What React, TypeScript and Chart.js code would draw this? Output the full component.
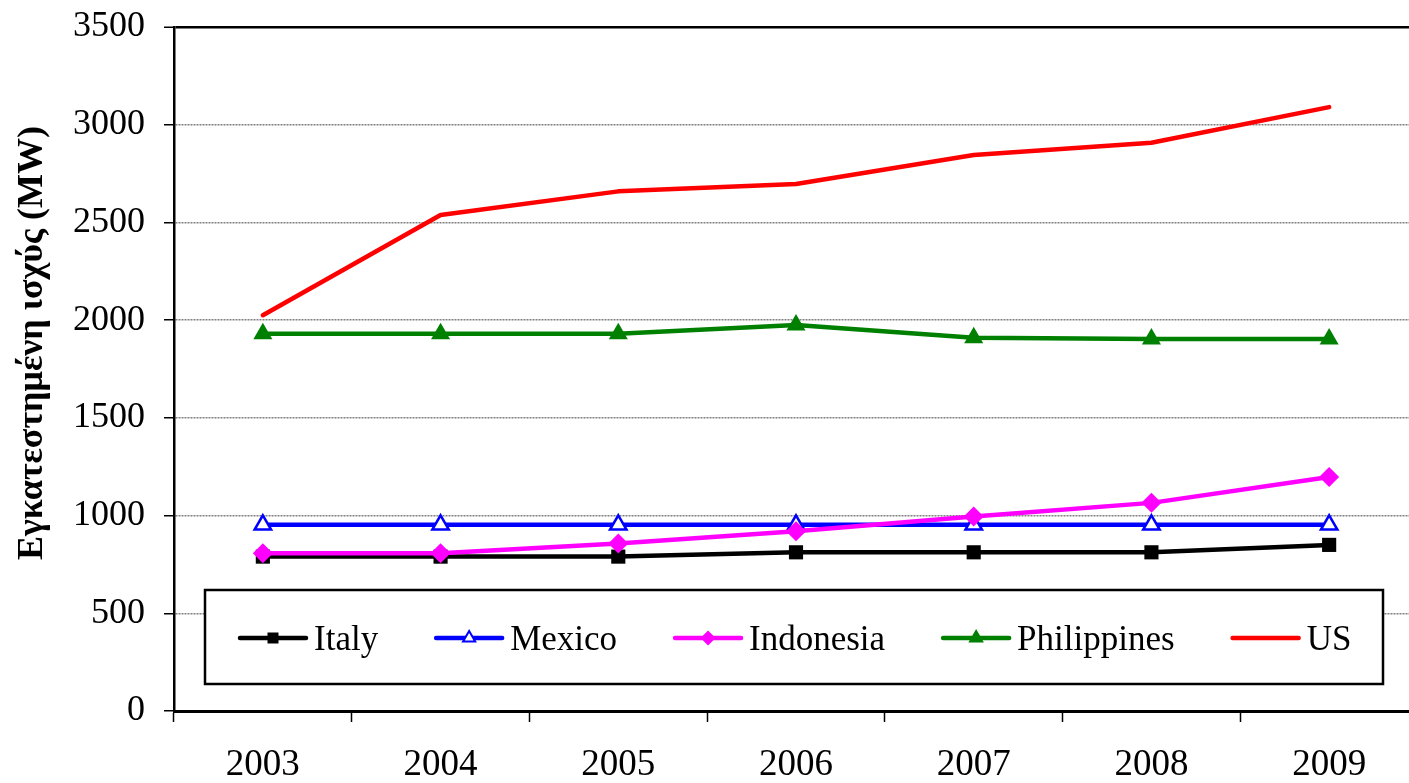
import React, { useEffect, useRef } from "react";
import { Chart, registerables } from "chart.js";

Chart.register(...registerables);

// ---- data ----
const years = ["2003", "2004", "2005", "2006", "2007", "2008", "2009"];
const italy = [790, 790, 790, 812, 812, 812, 850];
const mexico = [953, 953, 953, 953, 953, 953, 953];
const indonesia = [807, 807, 857, 920, 995, 1065, 1197];
const philippines = [1930, 1930, 1930, 1975, 1910, 1904, 1904];
const us = [2025, 2538, 2659, 2697, 2845, 2908, 3090];

const seriesNames = ["Italy", "Mexico", "Indonesia", "Philippines", "US"];
const yMin = 0;
const yMax = 3500;
const yStep = 500;
const yAxisTitle = "Εγκατεστημένη ισχύς (MW)";

const SERIF = '"Liberation Serif", "Times New Roman", serif';

function drawMarker(ctx: CanvasRenderingContext2D, style: string, cx: number, cy: number, fill: string, stroke: string, scale: number) {
  ctx.save();
  ctx.fillStyle = fill;
  ctx.strokeStyle = stroke;
  ctx.lineWidth = 2;
  ctx.beginPath();
  if (style === "rect") {
    const h = 5.5 * scale;
    ctx.rect(cx - h, cy - h, 2 * h, 2 * h);
    ctx.fill();
  } else if (style === "rectRot") {
    const h = 7.5 * scale;
    ctx.moveTo(cx - h, cy);
    ctx.lineTo(cx, cy - h);
    ctx.lineTo(cx + h, cy);
    ctx.lineTo(cx, cy + h);
    ctx.closePath();
    ctx.fill();
  } else if (style === "triangle") {
    const r = 7 * scale;
    ctx.moveTo(cx, cy - r);
    ctx.lineTo(cx + r * 0.866, cy + r * 0.5);
    ctx.lineTo(cx - r * 0.866, cy + r * 0.5);
    ctx.closePath();
    ctx.fill();
    ctx.stroke();
  }
  ctx.restore();
}

const boxLegend = {
  id: "boxLegend",
  afterDraw(chart: any) {
    const ctx: CanvasRenderingContext2D = chart.ctx;
    ctx.save();
    const bx = 205, by = 590, bw = 1178, bh = 94;
    ctx.fillStyle = "#ffffff";
    ctx.fillRect(bx, by, bw, bh);
    ctx.lineWidth = 2.5;
    ctx.strokeStyle = "#000000";
    ctx.strokeRect(bx, by, bw, bh);

    ctx.font = "35px " + SERIF;
    ctx.textBaseline = "alphabetic";
    ctx.textAlign = "left";
    let x = 240;
    const ly = 638;
    const lineLen = 66;
    chart.data.datasets.forEach((ds: any) => {
      ctx.strokeStyle = ds.borderColor;
      ctx.lineWidth = ds.borderWidth;
      ctx.lineCap = "round";
      ctx.beginPath();
      ctx.moveTo(x, ly);
      ctx.lineTo(x + lineLen, ly);
      ctx.stroke();
      if (ds.pointRadius > 0) {
        drawMarker(ctx, ds.pointStyle, x + lineLen / 2, ly, ds.pointBackgroundColor, ds.pointBorderColor, 1);
      }
      ctx.fillStyle = "#000000";
      const tx = x + lineLen + 8;
      ctx.fillText(ds.label, tx, 650);
      x = tx + ctx.measureText(ds.label).width + 58;
    });
    ctx.restore();
  },
};

const yTitlePlugin = {
  id: "yTitle",
  afterDraw(chart: any) {
    const ctx: CanvasRenderingContext2D = chart.ctx;
    ctx.save();
    ctx.translate(33, 343);
    ctx.rotate(-Math.PI / 2);
    ctx.font = "bold 36px " + SERIF;
    ctx.fillStyle = "#000000";
    ctx.textAlign = "center";
    ctx.textBaseline = "middle";
    ctx.fillText(yAxisTitle, 0, 0);
    ctx.restore();
  },
};

export default function App() {
  const ref = useRef<HTMLCanvasElement | null>(null);

  useEffect(() => {
    if (!ref.current) return;
    const mk = (label: string, data: number[], color: string, style: string | false, radius: number, bg: string, width: number, order: number) => ({
      label,
      data,
      borderColor: color,
      backgroundColor: color,
      borderWidth: width,
      pointStyle: style,
      pointRadius: radius,
      pointHoverRadius: radius,
      pointBackgroundColor: bg,
      pointBorderColor: color,
      pointBorderWidth: style === "triangle" && bg === "#ffffff" ? 2.5 : 0,
      tension: 0,
      fill: false,
      order,
    });
    const chart = new Chart(ref.current, {
      type: "line",
      data: {
        labels: years,
        datasets: [
          mk(seriesNames[0], italy, "#000000", "rect", 10, "#000000", 4.5, 5),
          mk(seriesNames[1], mexico, "#0000ff", "triangle", 9.5, "#ffffff", 4.5, 4),
          mk(seriesNames[2], indonesia, "#ff00ff", "rectRot", 10, "#ff00ff", 4.5, 3),
          mk(seriesNames[3], philippines, "#008000", "triangle", 11, "#008000", 4.5, 2),
          mk(seriesNames[4], us, "#ff0000", false, 0, "#ff0000", 4.5, 1),
        ] as any,
      },
      options: {
        responsive: false,
        animation: false,
        devicePixelRatio: 1,
        layout: { padding: { top: 27, right: 9, left: 0, bottom: 0 } },
        plugins: {
          legend: { display: false },
          title: { display: false },
          tooltip: { enabled: false },
        },
        elements: { line: { borderCapStyle: "round", borderJoinStyle: "round" } },
        scales: {
          x: {
            type: "category",
            offset: true,
            afterFit: (s: any) => {
              s.height = 72;
              s.paddingLeft = 0;
              s.paddingRight = 0;
            },
            grid: {
              display: true,
              offset: true,
              drawOnChartArea: false,
              drawTicks: true,
              tickLength: 11,
              tickColor: "#000000",
              tickWidth: 1.5,
            },
            border: { display: true, color: "#000000", width: 3 },
            ticks: {
              color: "#000000",
              font: { family: SERIF, size: 37 },
              padding: 21,
              maxRotation: 0,
              autoSkip: false,
            },
          },
          y: {
            type: "linear",
            min: yMin,
            max: yMax,
            afterFit: (s: any) => {
              s.width = 174;
              s.paddingTop = 0;
              s.paddingBottom = 0;
            },
            grid: {
              color: (c: any) => (c.tick && c.tick.value === yMax ? "#000000" : c.tick && c.tick.value === yMin ? "rgba(0,0,0,0)" : "#7f7f7f"),
              lineWidth: (c: any) => (c.tick && c.tick.value === yMax ? 2.5 : 1.5),
              drawTicks: true,
              tickLength: 10,
              tickColor: "#000000",
              tickWidth: 1.5,
            },
            border: {
              display: true,
              color: "#000000",
              width: 2.5,
              dash: (c: any) => (c.tick && c.tick.value === yMax ? [] : [2, 1]),
            },
            ticks: {
              stepSize: yStep,
              color: "#000000",
              font: { family: SERIF, size: 36 },
              padding: 19,
              callback: (v: any) => String(v),
            },
          },
        },
      } as any,
      plugins: [boxLegend, yTitlePlugin],
    });
    return () => chart.destroy();
  }, []);

  return (
    <div style={{ position: "fixed", left: 0, top: 0, width: 1409, height: 783, overflow: "hidden", background: "#ffffff" }}>
      <canvas ref={ref} width={1430} height={783} style={{ display: "block" }} />
    </div>
  );
}
